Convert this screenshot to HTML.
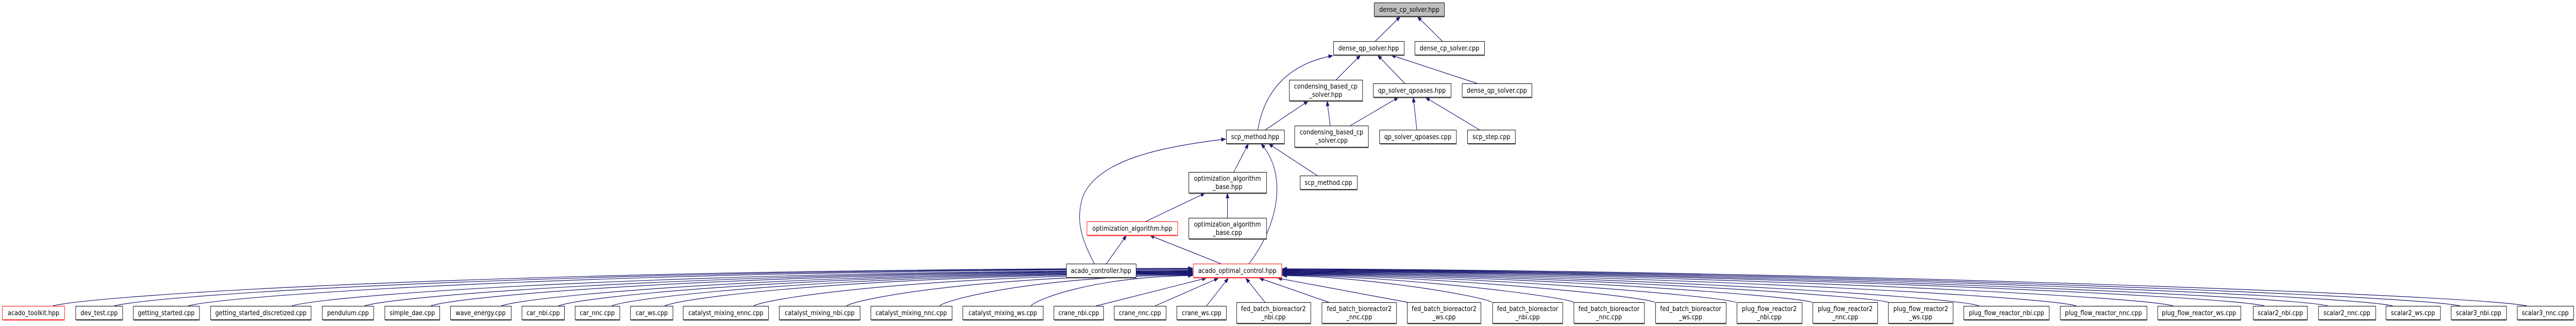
<!DOCTYPE html>
<html><head><meta charset="utf-8"><style>
html,body{margin:0;padding:0;background:#fff;width:100%;height:100%;overflow:hidden;}
svg{display:block;position:absolute;left:0;top:0;width:100vw;height:100vh;}
text{font-family:"DejaVu Sans","Liberation Sans",sans-serif;font-size:13px;fill:#000;text-anchor:middle;}
.n{fill:#fff;stroke:#000;stroke-width:1;}
.g{fill:#bfbfbf;stroke:#000;stroke-width:1;}
.r{fill:#fff;stroke:#f00;stroke-width:1;}
.s{stroke:#555;stroke-width:2;}
.sr{stroke:#f55;stroke-width:2;}
.e{fill:none;stroke:#191970;stroke-width:1.2;marker-end:url(#a);}
</style></head><body>
<svg viewBox="0 0 5767 633" preserveAspectRatio="none" xmlns="http://www.w3.org/2000/svg">
<defs><marker id="a" markerUnits="userSpaceOnUse" markerWidth="11" markerHeight="8" refX="10" refY="4" orient="auto"><path d="M0,0 L11,4 L0,8 z" fill="#191970"/></marker></defs>

<path class="e" d="M3079,80 L3135,32"/>
<path class="e" d="M3229,80 L3173,32"/>
<path class="e" d="M2816,252 C2830,180 2880,125 2984,108"/>
<path class="e" d="M2991,155 L3046,107"/>
<path class="e" d="M3145,162 L3084,107"/>
<path class="e" d="M3307,162 L3114,107"/>
<path class="e" d="M2833,252 L2929,196"/>
<path class="e" d="M2978,244 L2971,196"/>
<path class="e" d="M3023,244 L3131,189"/>
<path class="e" d="M3172,252 L3164,189"/>
<path class="e" d="M3312,252 L3191,189"/>
<path class="e" d="M2450,512 C2425,470 2405,430 2425,380 C2460,310 2600,285 2744,270"/>
<path class="e" d="M2949,341 L2840,279"/>
<path class="e" d="M2796,512 C2860,440 2885,340 2823,279"/>
<path class="e" d="M2762,334 L2795,279"/>
<path class="e" d="M2565,430 L2698,375"/>
<path class="e" d="M2748,423 L2748,375"/>
<path class="e" d="M2477,512 L2522,457"/>
<path class="e" d="M2733,512 L2574,457"/>

<path class="e" d="M118,594 C220,572 1120,523 2670,521"/>
<path class="e" d="M256,594 C352,572 1221,524 2670,522"/>
<path class="e" d="M421,594 C511,573 1321,525 2670,523"/>
<path class="e" d="M653,594 C734,573 1460,527 2670,525"/>
<path class="e" d="M816,594 C890,574 1558,528 2670,526"/>
<path class="e" d="M964,594 C1032,574 1646,529 2670,527"/>
<path class="e" d="M1122,594 C1184,575 1741,530 2670,528"/>
<path class="e" d="M1250,594 C1307,575 1818,531 2670,529"/>
<path class="e" d="M1369,594 C1421,576 1889,532 2670,530"/>
<path class="e" d="M1488,594 C1535,576 1961,533 2670,531"/>
<path class="e" d="M1687,594 C1726,577 2080,534 2670,532"/>
<path class="e" d="M1895,594 C1926,578 2205,535 2670,533"/>
<path class="e" d="M2103,594 C2126,579 2330,536 2670,534"/>
<path class="e" d="M2308,594 C2322,580 2453,537 2670,535"/>
<path class="e" d="M2454,594 L2701,540"/>
<path class="e" d="M2586,594 L2728,540"/>
<path class="e" d="M2701,594 L2750,540"/>
<path class="e" d="M2832,587 L2789,540"/>
<path class="e" d="M2975,587 L2819,540"/>
<path class="e" d="M3151,587 L2860,540"/>
<path class="e" d="M3340,587 C3320,575 3059,537 2871,535"/>
<path class="e" d="M3523,587 C3497,575 3132,536 2871,534"/>
<path class="e" d="M3705,587 C3672,574 3205,535 2871,533"/>
<path class="e" d="M3886,587 C3845,574 3277,534 2871,532"/>
<path class="e" d="M4057,587 C4010,573 3345,533 2871,531"/>
<path class="e" d="M4228,587 C4174,573 3414,532 2871,530"/>
<path class="e" d="M4431,594 C4369,574 3495,531 2871,529"/>
<path class="e" d="M4648,594 C4577,574 3582,530 2871,528"/>
<path class="e" d="M4865,594 C4785,573 3669,529 2871,527"/>
<path class="e" d="M5069,594 C4981,573 3750,528 2871,526"/>
<path class="e" d="M5212,594 C5118,573 3807,527 2871,525"/>
<path class="e" d="M5357,594 C5257,572 3865,526 2871,524"/>
<path class="e" d="M5507,594 C5401,572 3925,525 2871,523"/>
<path class="e" d="M5657,594 C5545,572 3985,524 2871,522"/>

<g>
<rect class="g" x="3076.5" y="5.5" width="157" height="26"/><line class="s" x1="3077" y1="32.5" x2="3234" y2="32.5"/><text x="3155" y="23">dense_cp_solver.hpp</text>
<rect class="n" x="2985.5" y="80.5" width="158" height="26"/><line class="s" x1="2986" y1="107.5" x2="3144" y2="107.5"/><text x="3064" y="98">dense_qp_solver.hpp</text>
<rect class="n" x="3167.5" y="80.5" width="156" height="26"/><line class="s" x1="3168" y1="107.5" x2="3324" y2="107.5"/><text x="3245" y="98">dense_cp_solver.cpp</text>
<rect class="n" x="2886.5" y="155.5" width="164" height="40"/><line class="s" x1="2887" y1="196.5" x2="3051" y2="196.5"/><text x="2968" y="172">condensing_based_cp</text><text x="2968" y="188">_solver.hpp</text>
<rect class="n" x="3074.5" y="162.5" width="174" height="26"/><line class="s" x1="3075" y1="189.5" x2="3249" y2="189.5"/><text x="3161" y="180">qp_solver_qpoases.hpp</text>
<rect class="n" x="3273.5" y="162.5" width="156" height="26"/><line class="s" x1="3274" y1="189.5" x2="3430" y2="189.5"/><text x="3351" y="180">dense_qp_solver.cpp</text>
<rect class="n" x="2745.5" y="252.5" width="130" height="26"/><line class="s" x1="2746" y1="279.5" x2="2876" y2="279.5"/><text x="2810" y="270">scp_method.hpp</text>
<rect class="n" x="2898.5" y="244.5" width="165" height="41"/><line class="s" x1="2899" y1="286.5" x2="3064" y2="286.5"/><text x="2981" y="261">condensing_based_cp</text><text x="2981" y="277">_solver.cpp</text>
<rect class="n" x="3088.5" y="252.5" width="172" height="26"/><line class="s" x1="3089" y1="279.5" x2="3261" y2="279.5"/><text x="3174" y="270">qp_solver_qpoases.cpp</text>
<rect class="n" x="3285.5" y="252.5" width="107" height="26"/><line class="s" x1="3286" y1="279.5" x2="3393" y2="279.5"/><text x="3339" y="270">scp_step.cpp</text>
<rect class="n" x="2661.5" y="334.5" width="174" height="40"/><line class="s" x1="2662" y1="375.5" x2="2836" y2="375.5"/><text x="2748" y="351">optimization_algorithm</text><text x="2748" y="367">_base.hpp</text>
<rect class="n" x="2910.5" y="341.5" width="128" height="26"/><line class="s" x1="2911" y1="368.5" x2="3039" y2="368.5"/><text x="2974" y="359">scp_method.cpp</text>
<rect class="r" x="2433.5" y="430.5" width="203" height="26"/><line class="sr" x1="2434" y1="457.5" x2="2637" y2="457.5"/><text x="2535" y="448">optimization_algorithm.hpp</text>
<rect class="n" x="2661.5" y="423.5" width="174" height="40"/><line class="s" x1="2662" y1="464.5" x2="2836" y2="464.5"/><text x="2748" y="440">optimization_algorithm</text><text x="2748" y="456">_base.cpp</text>
<rect class="n" x="2387.5" y="512.5" width="156" height="26"/><line class="s" x1="2388" y1="539.5" x2="2544" y2="539.5"/><text x="2465" y="530">acado_controller.hpp</text>
<rect class="r" x="2671.5" y="512.5" width="198" height="26"/><line class="sr" x1="2672" y1="539.5" x2="2870" y2="539.5"/><text x="2770" y="530">acado_optimal_control.hpp</text>
</g>

<g>
<rect class="r" x="5.5" y="594.5" width="139" height="26"/><line class="sr" x1="6" y1="621.5" x2="145" y2="621.5"/><text x="75" y="612">acado_toolkit.hpp</text>
<rect class="n" x="169.5" y="594.5" width="105" height="26"/><line class="s" x1="170" y1="621.5" x2="275" y2="621.5"/><text x="222" y="612">dev_test.cpp</text>
<rect class="n" x="298.5" y="594.5" width="148" height="26"/><line class="s" x1="299" y1="621.5" x2="447" y2="621.5"/><text x="372" y="612">getting_started.cpp</text>
<rect class="n" x="471.5" y="594.5" width="225" height="26"/><line class="s" x1="472" y1="621.5" x2="697" y2="621.5"/><text x="584" y="612">getting_started_discretized.cpp</text>
<rect class="n" x="721.5" y="594.5" width="115" height="26"/><line class="s" x1="722" y1="621.5" x2="837" y2="621.5"/><text x="779" y="612">pendulum.cpp</text>
<rect class="n" x="861.5" y="594.5" width="123" height="26"/><line class="s" x1="862" y1="621.5" x2="985" y2="621.5"/><text x="923" y="612">simple_dae.cpp</text>
<rect class="n" x="1008.5" y="594.5" width="136" height="26"/><line class="s" x1="1009" y1="621.5" x2="1145" y2="621.5"/><text x="1076" y="612">wave_energy.cpp</text>
<rect class="n" x="1168.5" y="594.5" width="95" height="26"/><line class="s" x1="1169" y1="621.5" x2="1264" y2="621.5"/><text x="1216" y="612">car_nbi.cpp</text>
<rect class="n" x="1287.5" y="594.5" width="100" height="26"/><line class="s" x1="1288" y1="621.5" x2="1388" y2="621.5"/><text x="1337" y="612">car_nnc.cpp</text>
<rect class="n" x="1411.5" y="594.5" width="95" height="26"/><line class="s" x1="1412" y1="621.5" x2="1507" y2="621.5"/><text x="1459" y="612">car_ws.cpp</text>
<rect class="n" x="1529.5" y="594.5" width="191" height="26"/><line class="s" x1="1530" y1="621.5" x2="1721" y2="621.5"/><text x="1625" y="612">catalyst_mixing_ennc.cpp</text>
<rect class="n" x="1744.5" y="594.5" width="181" height="26"/><line class="s" x1="1745" y1="621.5" x2="1926" y2="621.5"/><text x="1835" y="612">catalyst_mixing_nbi.cpp</text>
<rect class="n" x="1949.5" y="594.5" width="182" height="26"/><line class="s" x1="1950" y1="621.5" x2="2132" y2="621.5"/><text x="2040" y="612">catalyst_mixing_nnc.cpp</text>
<rect class="n" x="2155.5" y="594.5" width="180" height="26"/><line class="s" x1="2156" y1="621.5" x2="2336" y2="621.5"/><text x="2245" y="612">catalyst_mixing_ws.cpp</text>
<rect class="n" x="2359.5" y="594.5" width="111" height="26"/><line class="s" x1="2360" y1="621.5" x2="2471" y2="621.5"/><text x="2415" y="612">crane_nbi.cpp</text>
<rect class="n" x="2494.5" y="594.5" width="116" height="26"/><line class="s" x1="2495" y1="621.5" x2="2611" y2="621.5"/><text x="2552" y="612">crane_nnc.cpp</text>
<rect class="n" x="2634.5" y="594.5" width="111" height="26"/><line class="s" x1="2635" y1="621.5" x2="2746" y2="621.5"/><text x="2690" y="612">crane_ws.cpp</text>
<rect class="n" x="4396.5" y="594.5" width="191" height="26"/><line class="s" x1="4397" y1="621.5" x2="4588" y2="621.5"/><text x="4492" y="612">plug_flow_reactor_nbi.cpp</text>
<rect class="n" x="4612.5" y="594.5" width="194" height="26"/><line class="s" x1="4613" y1="621.5" x2="4807" y2="621.5"/><text x="4709" y="612">plug_flow_reactor_nnc.cpp</text>
<rect class="n" x="4830.5" y="594.5" width="186" height="26"/><line class="s" x1="4831" y1="621.5" x2="5017" y2="621.5"/><text x="4923" y="612">plug_flow_reactor_ws.cpp</text>
<rect class="n" x="5044.5" y="594.5" width="121" height="26"/><line class="s" x1="5045" y1="621.5" x2="5166" y2="621.5"/><text x="5105" y="612">scalar2_nbi.cpp</text>
<rect class="n" x="5190.5" y="594.5" width="128" height="26"/><line class="s" x1="5191" y1="621.5" x2="5319" y2="621.5"/><text x="5254" y="612">scalar2_nnc.cpp</text>
<rect class="n" x="5341.5" y="594.5" width="122" height="26"/><line class="s" x1="5342" y1="621.5" x2="5464" y2="621.5"/><text x="5402" y="612">scalar2_ws.cpp</text>
<rect class="n" x="5487.5" y="594.5" width="124" height="26"/><line class="s" x1="5488" y1="621.5" x2="5612" y2="621.5"/><text x="5549" y="612">scalar3_nbi.cpp</text>
<rect class="n" x="5635.5" y="594.5" width="126" height="26"/><line class="s" x1="5636" y1="621.5" x2="5762" y2="621.5"/><text x="5698" y="612">scalar3_nnc.cpp</text>
</g>
<g>
<rect class="n" x="2768.5" y="587.5" width="166" height="40"/><line class="s" x1="2769" y1="628.5" x2="2935" y2="628.5"/><text x="2851" y="604">fed_batch_bioreactor2</text><text x="2851" y="620">_nbi.cpp</text>
<rect class="n" x="2959.5" y="587.5" width="167" height="40"/><line class="s" x1="2960" y1="628.5" x2="3127" y2="628.5"/><text x="3043" y="604">fed_batch_bioreactor2</text><text x="3043" y="620">_nnc.cpp</text>
<rect class="n" x="3150.5" y="587.5" width="165" height="40"/><line class="s" x1="3151" y1="628.5" x2="3316" y2="628.5"/><text x="3233" y="604">fed_batch_bioreactor2</text><text x="3233" y="620">_ws.cpp</text>
<rect class="n" x="3341.5" y="587.5" width="157" height="40"/><line class="s" x1="3342" y1="628.5" x2="3499" y2="628.5"/><text x="3420" y="604">fed_batch_bioreactor</text><text x="3420" y="620">_nbi.cpp</text>
<rect class="n" x="3523.5" y="587.5" width="158" height="40"/><line class="s" x1="3524" y1="628.5" x2="3682" y2="628.5"/><text x="3602" y="604">fed_batch_bioreactor</text><text x="3602" y="620">_nnc.cpp</text>
<rect class="n" x="3706.5" y="587.5" width="158" height="40"/><line class="s" x1="3707" y1="628.5" x2="3865" y2="628.5"/><text x="3785" y="604">fed_batch_bioreactor</text><text x="3785" y="620">_ws.cpp</text>
<rect class="n" x="3888.5" y="587.5" width="146" height="40"/><line class="s" x1="3889" y1="628.5" x2="4035" y2="628.5"/><text x="3961" y="604">plug_flow_reactor2</text><text x="3961" y="620">_nbi.cpp</text>
<rect class="n" x="4058.5" y="587.5" width="145" height="40"/><line class="s" x1="4059" y1="628.5" x2="4204" y2="628.5"/><text x="4131" y="604">plug_flow_reactor2</text><text x="4131" y="620">_nnc.cpp</text>
<rect class="n" x="4227.5" y="587.5" width="145" height="40"/><line class="s" x1="4228" y1="628.5" x2="4373" y2="628.5"/><text x="4300" y="604">plug_flow_reactor2</text><text x="4300" y="620">_ws.cpp</text>
</g>
</svg>
</body></html>
